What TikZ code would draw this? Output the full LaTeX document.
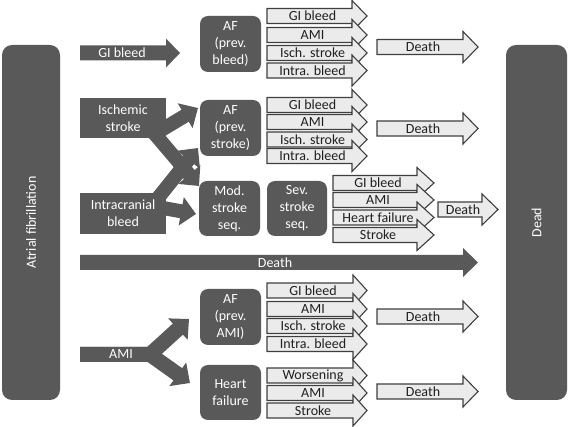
\documentclass[tikz,border=0pt]{standalone}
\usepackage{fontspec}
\setmainfont{Carlito}
\usetikzlibrary{arrows.meta}
\definecolor{darkbox}{HTML}{595959}
\definecolor{lightfill}{HTML}{EBEBEB}
\definecolor{lightline}{HTML}{3F3F3F}
\tikzset{
  boxstyle/.style={fill=darkbox, rounded corners=8pt, text=white, align=center, inner sep=0pt,
    font=\fontsize{14}{17}\selectfont},
  sqbox/.style={fill=darkbox, text=white, align=center, inner sep=0pt, font=\fontsize{14}{17}\selectfont},
  lightarr/.style={fill=lightfill, draw=lightline, line width=1.1pt, line join=miter},
  darkarr/.style={fill=darkbox},
  ltext/.style={text=black!88, inner sep=0pt, font=\fontsize{14}{17}\selectfont},
  dtext/.style={text=white, inner sep=0pt, font=\fontsize{14}{17}\selectfont},
  fatarrow/.style={draw=darkbox, line width=14pt, line join=miter,
    -{Triangle[length=15pt,width=28pt]}},
}
% #1 name, #2 x0, #3 x1 (body end), #4 tip x, #5 y centre, #6 text
\newcommand{\smallarr}[6]{%
  \path[lightarr] (#2,{#5-7.5}) -- (#3,{#5-7.5}) -- (#3,{#5-15.5}) -- (#4,#5)
    -- (#3,{#5+15.5}) -- (#3,{#5+7.5}) -- (#2,{#5+7.5}) -- cycle;
  \node[ltext] (#1) at ({(#2+#3)/2+3},#5) {#6};}
% #1 name, #2 x0, #3 x1, #4 tip x, #5 y centre, #6 text, #7 text x
\newcommand{\bigarr}[7]{%
  \path[darkarr] (#2,{#5-7.5}) -- (#3,{#5-7.5}) -- (#3,{#5-14.5}) -- (#4,#5)
    -- (#3,{#5+14.5}) -- (#3,{#5+7.5}) -- (#2,{#5+7.5}) -- cycle;
  \node[dtext] (#1) at (#7,#5) {#6};}
\begin{document}
\begin{tikzpicture}[x=1pt,y=-1pt]
\useasboundingbox (0,0) rectangle (568,427);

% side boxes
\node[boxstyle, rounded corners=10pt, minimum width=58pt, minimum height=355pt] (af) at (31,222.5) {};
\node[dtext, rotate=90] (aftext) at (af.center) {Atrial fibrillation};
\node[boxstyle, rounded corners=10pt, minimum width=61pt, minimum height=355pt] (dead) at (536.5,222.5) {};
\node[dtext, rotate=90] (deadtext) at (dead.center) {Dead};

% state boxes
\node[boxstyle, minimum width=61pt, minimum height=56pt] (afbleed) at (230.5,44) {AF\\(prev.\\bleed)};
\node[boxstyle, minimum width=61pt, minimum height=56pt] (afstroke) at (230.5,128) {AF\\(prev.\\stroke)};
\node[boxstyle, minimum width=61pt, minimum height=55pt] (mod) at (229.5,208.5) {Mod.\\stroke\\seq.};
\node[boxstyle, minimum width=60pt, minimum height=55pt] (sev) at (297,208.5) {Sev.\\stroke\\seq.};
\node[boxstyle, minimum width=61pt, minimum height=56pt] (afami) at (230.5,317) {AF\\(prev.\\AMI)};
\node[boxstyle, minimum width=61pt, minimum height=55pt] (hf) at (230.5,392.5) {Heart\\failure};

% fat arrows from ischemic stroke / intracranial bleed
\coordinate (isA) at (158,132);
\coordinate (isB) at (148,126);
\coordinate (icA) at (150,208);
\coordinate (icB) at (152,206);
\coordinate (tipIA) at (198,108);
\coordinate (tipIM) at (199,186);
\coordinate (tipBA) at (198,148);
\coordinate (tipBM) at (196,214);
\draw[fatarrow] (isA) -- (tipIA);
\draw[fatarrow] (isB) -- (tipIM);
\draw[fatarrow] (icA) -- (tipBA);
\draw[fatarrow] (icB) -- (tipBM);
\node[sqbox, minimum width=86pt, minimum height=40pt] (isch) at (123,118) {Ischemic\\stroke};
\node[sqbox, minimum width=86pt, minimum height=41pt] (icb) at (123,213.5) {Intracranial\\bleed};

% AMI fork
\coordinate (amistart) at (80,354.5);
\coordinate (amifork) at (150,354.5);
\coordinate (amiup) at (189,319);
\coordinate (amidown) at (190,383);
\draw[fatarrow, line width=15pt] (amistart) -- (amifork) -- (amiup);
\draw[fatarrow, line width=15pt] (amistart) -- (amifork) -- (amidown);
\node[dtext] (amilbl) at (121,354.5) {AMI};

% big dark arrows
\bigarr{gib}{80}{166}{180}{53}{GI bleed}{122}
\bigarr{death}{80}{463}{478}{262.5}{Death}{275}

% group 1
\smallarr{g1a}{267}{352}{367}{16}{GI bleed}
\smallarr{g1b}{267}{352}{367}{35}{AMI}
\smallarr{g1c}{267}{352}{367}{53}{Isch. stroke}
\smallarr{g1d}{267}{352}{367}{70.5}{Intra. bleed}
\smallarr{g1e}{377}{463}{478}{47}{Death}
% group 2
\smallarr{g2a}{267}{352}{367}{105}{GI bleed}
\smallarr{g2b}{267}{352}{367}{122}{AMI}
\smallarr{g2c}{267}{352}{367}{139.5}{Isch. stroke}
\smallarr{g2d}{267}{352}{367}{156}{Intra. bleed}
\smallarr{g2e}{377}{463}{478}{128.5}{Death}
% group 3
\smallarr{g3a}{333}{417}{434}{183}{GI bleed}
\smallarr{g3b}{333}{417}{434}{200}{AMI}
\smallarr{g3c}{333}{417}{434}{217.5}{Heart failure}
\smallarr{g3d}{333}{417}{434}{235}{Stroke}
\smallarr{g3e}{438}{482}{498}{209.5}{Death}
% group 4
\smallarr{g4a}{267}{353}{367}{290.5}{GI bleed}
\smallarr{g4b}{267}{353}{367}{309}{AMI}
\smallarr{g4c}{267}{353}{367}{326}{Isch. stroke}
\smallarr{g4d}{267}{353}{367}{344}{Intra. bleed}
\smallarr{g4e}{377}{463}{478}{316.5}{Death}
% group 5
\smallarr{g5a}{267}{353}{367}{375.5}{Worsening}
\smallarr{g5b}{267}{353}{367}{393}{AMI}
\smallarr{g5c}{267}{353}{367}{410.5}{Stroke}
\smallarr{g5d}{377}{463}{478}{391.5}{Death}
\end{tikzpicture}
\end{document}
